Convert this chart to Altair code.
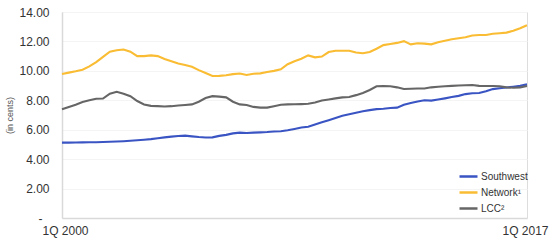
import altair as alt
import pandas as pd

quarters = list(range(69))  # 1Q 2000 .. 1Q 2017

southwest = [5.12, 5.12, 5.13, 5.14, 5.15, 5.15, 5.16, 5.18, 5.20, 5.22,
             5.25, 5.28, 5.32, 5.36, 5.42, 5.48, 5.53, 5.57, 5.60, 5.55,
             5.50, 5.47, 5.48, 5.58, 5.65, 5.75, 5.80, 5.78, 5.80, 5.82,
             5.84, 5.88, 5.90, 5.96, 6.05, 6.15, 6.20, 6.35, 6.50, 6.65,
             6.80, 6.95, 7.05, 7.15, 7.25, 7.33, 7.40, 7.43, 7.48, 7.50,
             7.70, 7.82, 7.92, 8.00, 7.98, 8.05, 8.13, 8.22, 8.30, 8.42,
             8.48, 8.50, 8.62, 8.76, 8.82, 8.87, 8.92, 8.98, 9.08]

network = [9.78, 9.88, 9.97, 10.08, 10.30, 10.60, 10.95, 11.30, 11.40, 11.45,
           11.30, 11.00, 11.00, 11.05, 11.00, 10.80, 10.65, 10.50, 10.40, 10.28,
           10.05, 9.85, 9.65, 9.66, 9.70, 9.78, 9.82, 9.72, 9.80, 9.83,
           9.92, 10.00, 10.10, 10.45, 10.65, 10.82, 11.05, 10.92, 10.97, 11.28,
           11.37, 11.37, 11.37, 11.25, 11.20, 11.28, 11.50, 11.75, 11.82, 11.90,
           12.02, 11.80, 11.88, 11.85, 11.80, 11.95, 12.05, 12.15, 12.22, 12.28,
           12.40, 12.44, 12.44, 12.52, 12.56, 12.60, 12.72, 12.90, 13.10]

lcc = [7.39, 7.55, 7.70, 7.88, 8.00, 8.10, 8.12, 8.45, 8.58, 8.45,
       8.28, 7.95, 7.72, 7.62, 7.60, 7.58, 7.60, 7.65, 7.68, 7.72,
       7.90, 8.15, 8.28, 8.25, 8.20, 7.90, 7.72, 7.68, 7.55, 7.50,
       7.50, 7.60, 7.70, 7.72, 7.73, 7.74, 7.76, 7.85, 7.98, 8.05,
       8.13, 8.20, 8.22, 8.35, 8.50, 8.70, 8.95, 8.97, 8.95, 8.88,
       8.77, 8.78, 8.80, 8.80, 8.88, 8.92, 8.95, 8.98, 9.00, 9.02,
       9.04, 8.98, 8.97, 8.97, 8.95, 8.88, 8.85, 8.88, 8.97]

series_names = ["Southwest", "Network\u00b9", "LCC\u00b2"]
series_colors = ["#3A55C3", "#F9BC33", "#666666"]
x_tick_values = [0, 68]
x_tick_labels = ["1Q 2000", "1Q 2017"]
y_ticks = [0, 2, 4, 6, 8, 10, 12, 14]

rows = []
for name, vals in zip(series_names, [southwest, network, lcc]):
    for q, v in zip(quarters, vals):
        rows.append({"q": q, "value": v, "series": name})
df = pd.DataFrame(rows)

label_expr = f"datum.value == 0 ? '{x_tick_labels[0]}' : '{x_tick_labels[1]}'"
y_label_expr = "datum.value == 0 ? '-' : format(datum.value, '.2f')"

chart = alt.Chart(df).mark_line(strokeWidth=2.1).encode(
    x=alt.X("q:Q",
            scale=alt.Scale(domain=[0, 68], nice=False, zero=False),
            axis=alt.Axis(values=x_tick_values, labelExpr=label_expr, title=None,
                          grid=False, ticks=False, domainColor="#d9d9d9",
                          domainWidth=1.5, labelFontSize=12, labelColor="#333333",
                          labelPadding=7, labelFlush=False,
                          labelFont="Liberation Sans",
                          labelOffset={"condition": {"test": "datum.value == 0", "value": 3},
                                       "value": -2})),
    y=alt.Y("value:Q",
            scale=alt.Scale(domain=[0, 14], nice=False),
            axis=alt.Axis(values=y_ticks, labelExpr=y_label_expr,
                          title="(in cents)", titleFontSize=9, titleFontWeight="normal",
                          titleColor="#555555", titlePadding=4, titleFont="Liberation Sans",
                          grid=True, gridColor="#f4f4f4", ticks=False,
                          domainColor="#d9d9d9", domainWidth=1.5,
                          labelFontSize=12, labelColor="#333333",
                          labelPadding={"condition": {"test": "datum.value == 0", "value": 20},
                                        "value": 13},
                          labelFont="Liberation Sans")),
    color=alt.Color("series:N",
                    scale=alt.Scale(domain=series_names, range=series_colors),
                    sort=series_names,
                    legend=alt.Legend(title=None, orient="none", legendX=396, legendY=154,
                                      symbolType="stroke", symbolSize=324,
                                      symbolStrokeWidth=2.5, labelFontSize=10,
                                      labelColor="#333333", labelOffset=2,
                                      labelFont="Liberation Sans", rowPadding=-4.5)),
    order=alt.value(0),
).properties(
    width=465, height=206,
    autosize=alt.AutoSizeParams(type="none"),
    padding={"left": 62, "top": 12, "right": 27, "bottom": 32},
).configure_view(stroke=None).configure(background="white")

chart.save("out.html", embed_options={"renderer": "svg", "actions": False})
